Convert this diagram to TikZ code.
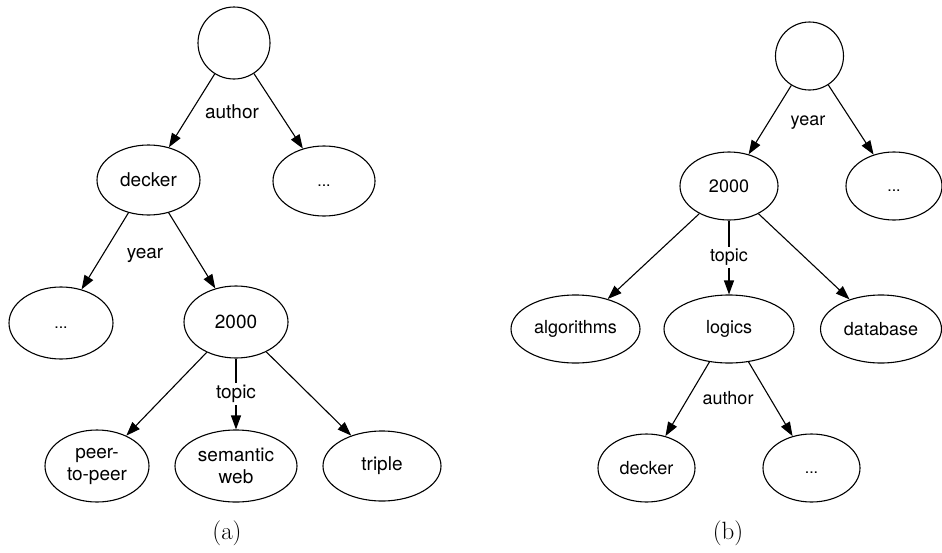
\documentclass[tikz,border=0pt]{standalone}
\usepackage{fontspec}
\setsansfont{TeX Gyre Heros}
\usetikzlibrary{arrows.meta,shapes.geometric}
\begin{document}
\begin{tikzpicture}[x=1pt,y=-1pt,
  every node/.style={font=\sffamily\fontsize{19}{22}\selectfont},
  ell/.style={draw,ellipse,inner sep=0pt,line width=1.1pt,align=center},
  rootc/.style={draw,circle,inner sep=0pt,line width=1.1pt},
  edge/.style={line width=1.1pt,-{Triangle[length=14pt,width=10pt]}},
  lab/.style={inner sep=2pt},
  smallb/.style={font=\sffamily\fontsize{18}{21}\selectfont},
  dotsf/.style={font=\sffamily\fontsize{16}{19}\selectfont},
  capt/.style={font=\rmfamily\fontsize{25}{30}\selectfont}]
\useasboundingbox (0,0) rectangle (942,552);
% ---------- (a) ----------
\node[rootc,minimum size=72pt] (ra) at (234,43) {};
\node[ell,minimum width=103pt,minimum height=70pt] (adecker) at (148.5,180) {decker};
\node[ell,minimum width=102pt,minimum height=70pt,dotsf] (adots1) at (324,181) {\vphantom{d}...};
\node[ell,minimum width=104pt,minimum height=72pt,dotsf] (adots2) at (61,323) {\vphantom{d}...};
\node[ell,minimum width=104pt,minimum height=72pt] (a2000) at (236,322) {2000};
\node[ell,minimum width=104pt,minimum height=72pt] (apeer) at (97,466) {peer-\\to-peer};
\node[ell,minimum width=122pt,minimum height=72pt] (asem) at (236,466) {semantic\\web};
\node[ell,minimum width=118pt,minimum height=70pt] (atriple) at (382,466) {triple};
\draw[edge] (ra) -- (adecker);
\draw[edge] (ra) -- (adots1);
\draw[edge] (adecker) -- (adots2);
\draw[edge] (adecker) -- (a2000);
\draw[edge] (a2000) -- (apeer);
\draw[edge] (a2000) -- node[lab,fill=white] (ltopica) {topic} (asem);
\draw[edge] (a2000) -- (atriple);
\node[lab] (lauthora) at (232,112) {author};
\node[lab] (lyeara) at (145,255) {year};
\node[capt] (capa) at (227,533) {(a)};
% ---------- (b) ----------
\node[rootc,minimum size=68pt] (rb) at (809.5,56) {};
\node[ell,smallb,minimum width=98pt,minimum height=68pt] (b2000) at (729,186) {2000};
\node[ell,dotsf,minimum width=96pt,minimum height=68pt] (bdots1) at (894,186) {\vphantom{d}...};
\node[ell,smallb,minimum width=129pt,minimum height=68pt] (balg) at (575.5,329) {algorithms};
\node[ell,smallb,minimum width=130pt,minimum height=68pt] (blog) at (729,329) {logics};
\node[ell,smallb,minimum width=121pt,minimum height=68pt] (bdb) at (881,329) {database};
\node[ell,smallb,minimum width=97pt,minimum height=68pt] (bdeck) at (646.5,468) {decker};
\node[ell,dotsf,minimum width=97pt,minimum height=68pt] (bdots2) at (811.5,468) {\vphantom{d}...};
\draw[edge] (rb) -- (b2000);
\draw[edge] (rb) -- (bdots1);
\draw[edge] (b2000) -- (balg);
\draw[edge] (b2000) -- node[lab,smallb,fill=white] (ltopicb) {topic} (blog);
\draw[edge] (b2000) -- (bdb);
\draw[edge] (blog) -- (bdeck);
\draw[edge] (blog) -- (bdots2);
\node[lab,smallb] (lyearb) at (808,123) {year};
\node[lab,smallb] (lauthorb) at (728,398) {author};
\node[capt] (capb) at (728,533) {(b)};
\end{tikzpicture}
\end{document}
